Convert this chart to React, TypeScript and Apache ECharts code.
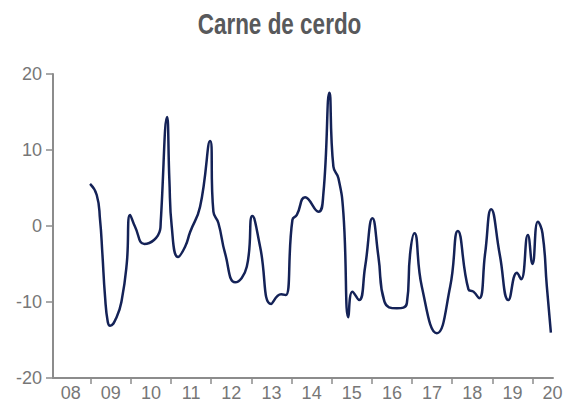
import React, { useEffect, useRef } from "react";
import * as echarts from "echarts";

const titleText = "Carne de cerdo";
const yearTicks = [2009, 2010, 2011, 2012, 2013, 2014, 2015, 2016, 2017, 2018, 2019, 2020];
const yearLabelPos = [2008.5, 2009.5, 2010.5, 2011.5, 2012.5, 2013.5, 2014.5, 2015.5, 2016.5, 2017.5, 2018.5, 2019.5, 2020.5];
const xTime = [
  2008.983, 2009.149, 2009.232, 2009.289, 2009.356, 2009.423, 2009.481, 2009.648,
  2009.772, 2009.897, 2009.979, 2010.103, 2010.335,
  2010.726, 2010.743, 2010.9, 2010.958, 2011.017, 2011.174, 2011.349,
  2011.475, 2011.722, 2011.971, 2012.054, 2012.178, 2012.345, 2012.596, 2012.885,
  2013.025, 2013.217, 2013.491, 2013.74, 2013.857, 2014.021, 2014.131, 2014.338,
  2014.669, 2014.793, 2014.943, 2015.042, 2015.167, 2015.291, 2015.416, 2015.516,
  2015.682, 2015.832, 2016.014, 2016.163, 2016.313, 2016.621, 2016.871, 2016.953,
  2017.06, 2017.244, 2017.618, 2017.949, 2018.141, 2018.405, 2018.529, 2018.671,
  2018.82, 2018.97, 2019.186, 2019.401, 2019.61, 2019.717, 2019.884, 2019.999,
  2020.133, 2020.248, 2020.357, 2020.457,
];
const values = [
  5.53, 4.08, 0.79, -3.59, -9.3, -12.59, -13.12, -11.93,
  -9.74, -4.91, 1.45, -0.09, -2.37,
  -0.53, 0.57, 14.34, 6.05, -0.09, -4.08, -2.72,
  -0.79, 2.54, 11.18, 1.88, 0.39, -3.6, -7.41, -5.36,
  1.32, -2.72, -10.26, -8.99, -9.08, 0.79, 1.45, 3.78,
  1.88, 4.3, 17.54, 7.8, 6.28, 1.67, -12.01, -8.64,
  -9.74, -5.36, 1.01, -4.04, -9.96, -10.83, -10.17, -3.6,
  -0.96, -7.99, -14.12, -7.99, -0.66, -8.33, -8.64, -9.51,
  -3.6, 2.2, -3.82, -9.74, -6.14, -7.01, -1.18, -5.0,
  0.57, -0.96, -7.99, -14.04,
];

const FONT = "'Liberation Sans', Arial, sans-serif";

export default function App() {
  const ref = useRef<HTMLDivElement>(null);
  useEffect(() => {
    if (!ref.current) return;
    const chart = echarts.init(ref.current, null, { renderer: "svg" });
    const data = xTime.map((x, i) => [x, values[i]]);
    chart.setOption({
      animation: false,
      graphic: [
        {
          type: "text",
          x: 279.5,
          y: 23.6,
          scaleX: 0.75,
          style: {
            text: titleText,
            fontFamily: FONT,
            fontWeight: "bold",
            fontSize: 30,
            fill: "#58595b",
            align: "center",
            verticalAlign: "middle",
          },
        },
      ],
      grid: { left: 53, right: 15, top: 74, bottom: 29 },
      xAxis: {
        type: "value",
        min: 2008.06,
        max: 2020.51,
        splitLine: { show: false },
        axisLine: { show: true, onZero: false, lineStyle: { color: "#8c8c8c", width: 2 } },
        axisTick: { show: true, customValues: yearTicks, length: 6, lineStyle: { color: "#8c8c8c", width: 1.5 } },
        axisLabel: {
          customValues: yearLabelPos,
          formatter: (v: number) => String(Math.floor(v) % 100).padStart(2, "0"),
          fontFamily: FONT,
          fontSize: 18,
          color: "#777777",
          margin: 6,
        },
      },
      yAxis: {
        type: "value",
        min: -20,
        max: 20,
        interval: 10,
        splitLine: { show: false },
        axisLine: { show: true, lineStyle: { color: "#8c8c8c", width: 2 } },
        axisTick: { show: true, length: 7, lineStyle: { color: "#8c8c8c", width: 1.5 } },
        axisLabel: { fontFamily: FONT, fontSize: 18, color: "#777777", margin: 11 },
      },
      series: [
        {
          type: "line",
          data,
          smooth: 0.5,
          showSymbol: false,
          lineStyle: { color: "#142257", width: 2.5 },
        },
      ],
    });
    return () => chart.dispose();
  }, []);
  return (
    <div
      ref={ref}
      style={{ position: "absolute", left: 0, top: 0, width: 568, height: 407 }}
    />
  );
}
